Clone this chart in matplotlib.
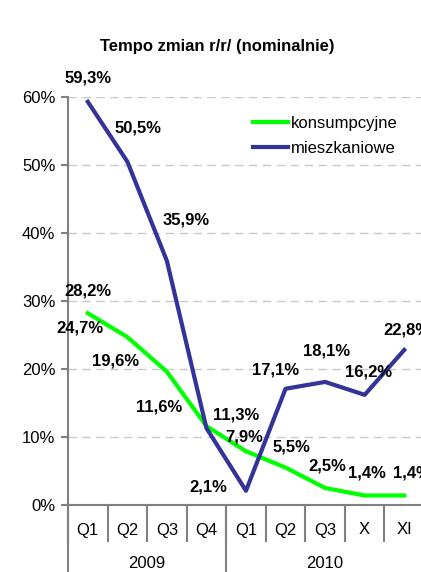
import matplotlib.pyplot as plt
from matplotlib.ticker import FuncFormatter

# --- dane ---
kwartaly = ["Q1", "Q2", "Q3", "Q4", "Q1", "Q2", "Q3", "X", "XI"]
lata = ["2009", "2010"]
konsumpcyjne = [28.2, 24.7, 19.6, 11.6, 7.9, 5.5, 2.5, 1.4, 1.4]
mieszkaniowe = [59.3, 50.5, 35.9, 11.3, 2.1, 17.1, 18.1, 16.2, 22.8]

# przesunięcia etykiet (piksele: dx w prawo, dy w dół)
off_m = [(0, -24), (11, -34), (19, -41), (30, -13), (-38, -4), (-10, -19), (1, -31), (4, -23), (3, -20)]
off_k = [(0, -22), (-47, -9), (-51, -11), (-47, -19), (-2, -14), (6, -21), (2, -22), (2, -22), (8, -22)]

plt.rcParams['font.family'] = ['Liberation Sans', 'DejaVu Sans']
fs = 12
px = 72 / 100  # piksel -> punkt

fig = plt.figure(figsize=(4.21, 5.72), dpi=100)
ax = fig.add_axes([68 / 421, 67 / 572, 356 / 421, 408 / 572])

x = list(range(len(kwartaly)))
ax.plot(x, konsumpcyjne, color='#00ff00', lw=3, label='konsumpcyjne', zorder=3)
ax.plot(x, mieszkaniowe, color='#333399', lw=3, label='mieszkaniowe', zorder=3)

for xi, v, (dx, dy) in zip(x, mieszkaniowe, off_m):
    ax.annotate(f"{v:.1f}%".replace('.', ','), (xi, v), xytext=(dx * px, -dy * px),
                textcoords='offset points', ha='center', va='center',
                fontsize=fs, fontweight='bold', annotation_clip=False)
for xi, v, (dx, dy) in zip(x, konsumpcyjne, off_k):
    ax.annotate(f"{v:.1f}%".replace('.', ','), (xi, v), xytext=(dx * px, -dy * px),
                textcoords='offset points', ha='center', va='center',
                fontsize=fs, fontweight='bold', annotation_clip=False)

ax.set_xlim(-0.5, 8.5)
ax.set_ylim(0, 60)
ax.set_yticks(range(0, 61, 10))
ax.yaxis.set_major_formatter(FuncFormatter(lambda v, p: f"{v:.0f}%"))
ax.tick_params(axis='y', labelsize=fs, length=5, color='#808080', width=1.5, pad=4)
for yv in range(10, 61, 10):
    ax.axhline(yv, color='#c8c8c8', lw=1, ls=(0, (6, 4)), zorder=1)

# oś kategorii
ax.set_xticks([])
ax.spines['top'].set_visible(False)
ax.spines['right'].set_visible(False)
ax.spines['left'].set_color('#808080')
ax.spines['bottom'].set_color('#808080')
ax.spines['left'].set_linewidth(1.5)
ax.spines['bottom'].set_linewidth(1.5)
tr = ax.get_xaxis_transform()
for b in [i - 0.5 for i in range(len(kwartaly) + 1)]:
    ax.plot([b, b], [0, -36 / 408], transform=tr, color='#808080', lw=1.5, clip_on=False)
for b in [-0.5, 3.5, 8.5]:
    ax.plot([b, b], [0, -70 / 408], transform=tr, color='#808080', lw=1.5, clip_on=False)
for xi, k in zip(x, kwartaly):
    ax.text(xi, -25 / 408, k, transform=tr, ha='center', va='center', fontsize=fs)
ax.text(1.5, -58 / 408, lata[0], transform=tr, ha='center', va='center', fontsize=fs)
ax.text(6.0, -58 / 408, lata[1], transform=tr, ha='center', va='center', fontsize=fs)

fig.text(217 / 421, 1 - 46 / 572, "Tempo zmian r/r/ (nominalnie)", ha='center', va='center',
         fontsize=fs, fontweight='bold')

ax.legend(loc='upper left', bbox_to_anchor=(177 / 356, 1 - 11 / 408), frameon=False,
          fontsize=fs, handlelength=2.1, handletextpad=0.15, labelspacing=0.6, borderpad=0)

fig.savefig('out.png', dpi=100)
